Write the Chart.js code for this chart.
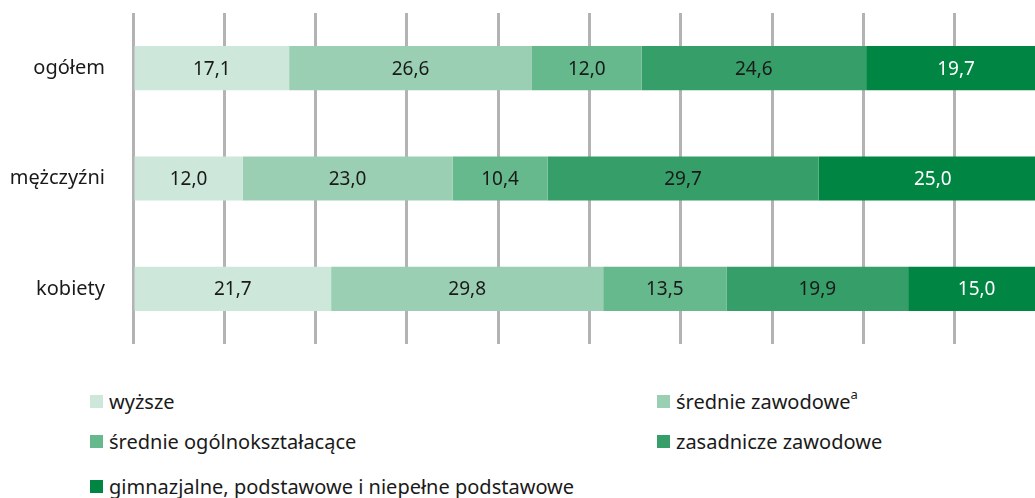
<!DOCTYPE html>
<html lang="pl">
<head>
<meta charset="utf-8">
<script src="https://cdn.jsdelivr.net/npm/chart.js@4"></script>
<style>
  html, body { margin: 0; padding: 0; background: #fff; overflow: hidden; }
  body { width: 1035px; height: 498px; position: relative; font-family: "Noto Sans", sans-serif; }
  #wrap { position: absolute; left: 0; top: 0; width: 1046px; height: 360px; }
  .legend { position: absolute; left: 0; top: 0; font-size: 20px; color: #1a1a1a; }
  .legend-item { position: absolute; white-space: nowrap; display: flex; align-items: center; }
  .legend-item i { display: inline-block; width: 13px; height: 13px; margin-right: 6px; }
  .legend-item sup { font-size: 13px; position: relative; top: -3px; vertical-align: top; }
</style>
</head>
<body>
<div id="wrap"><canvas id="chart" width="1046" height="360"></canvas></div>
<div class="legend" id="legend"></div>
<script>
// Struktura wykształcenia (%) — ogółem / mężczyźni / kobiety
const categories = ['ogółem', 'mężczyźni', 'kobiety'];
const seriesNames = [
  'wyższe',
  'średnie zawodowe',
  'średnie ogólnokształacące',
  'zasadnicze zawodowe',
  'gimnazjalne, podstawowe i niepełne podstawowe',
];
const footnotes = ['', 'a', '', '', ''];

const wyzsze = [17.1, 12.0, 21.7];
const srednieZawodowe = [26.6, 23.0, 29.8];
const srednieOgolne = [12.0, 10.4, 13.5];
const zasadnicze = [24.6, 29.7, 19.9];
const gimnazjalne = [19.7, 25.0, 15.0];

const COLORS = ['#cde7da', '#9bcfb3', '#66b98d', '#369e68', '#008542'];
const LABEL_COLORS = ['#1a1a1a', '#1a1a1a', '#1a1a1a', '#1a1a1a', '#ffffff'];

const seriesValues = [wyzsze, srednieZawodowe, srednieOgolne, zasadnicze, gimnazjalne];

const fmt = (v) => v.toFixed(1).replace('.', ',');

// value labels in the middle of each segment
const barLabels = {
  id: 'barLabels',
  afterDatasetsDraw(chart) {
    const { ctx } = chart;
    ctx.save();
    ctx.font = '19px "Noto Sans", sans-serif';
    ctx.textAlign = 'center';
    ctx.textBaseline = 'middle';
    chart.data.datasets.forEach((ds, i) => {
      chart.getDatasetMeta(i).data.forEach((bar, j) => {
        const cx = (bar.x + bar.base) / 2;
        ctx.fillStyle = LABEL_COLORS[i];
        ctx.fillText(fmt(ds.data[j]), cx, bar.y + 1);
      });
    });
    ctx.restore();
  },
};

new Chart(document.getElementById('chart'), {
  type: 'bar',
  data: {
    labels: categories,
    datasets: seriesValues.map((vals, i) => ({
      label: seriesNames[i],
      data: vals,
      backgroundColor: COLORS[i],
      borderWidth: 0,
      barPercentage: 0.8,
      categoryPercentage: 0.5,
    })),
  },
  options: {
    indexAxis: 'y',
    responsive: false,
    animation: false,
    layout: { padding: { top: 13, bottom: 16, left: 0, right: 0 } },
    plugins: { legend: { display: false }, tooltip: { enabled: false } },
    scales: {
      x: {
        stacked: true,
        min: 0,
        max: 100,
        ticks: { display: false, stepSize: 10 },
        border: { display: false },
        grid: { color: '#b3b3b3', lineWidth: 3, drawTicks: false },
      },
      y: {
        stacked: true,
        border: { display: false },
        grid: { display: false, drawTicks: false },
        ticks: { color: '#1a1a1a', padding: 28, font: { family: '"Noto Sans", sans-serif', size: 20 } },
        afterFit(scale) {
          scale.width = 133;
          scale.paddingTop = 0;
          scale.paddingBottom = 0;
        },
      },
    },
  },
  plugins: [barLabels],
});

// legend in two columns, like the original
const legendPos = [
  [90, 402], [657, 402],
  [90, 442], [657, 442],
  [90, 487],
];
const legendEl = document.getElementById('legend');
seriesNames.forEach((name, i) => {
  const item = document.createElement('div');
  item.className = 'legend-item';
  item.style.left = legendPos[i][0] + 'px';
  item.style.top = (legendPos[i][1] - 14) + 'px';
  item.innerHTML = `<i style="background:${COLORS[i]}"></i><span>${name}${footnotes[i] ? `<sup>${footnotes[i]}</sup>` : ''}</span>`;
  legendEl.appendChild(item);
});
</script>
</body>
</html>
